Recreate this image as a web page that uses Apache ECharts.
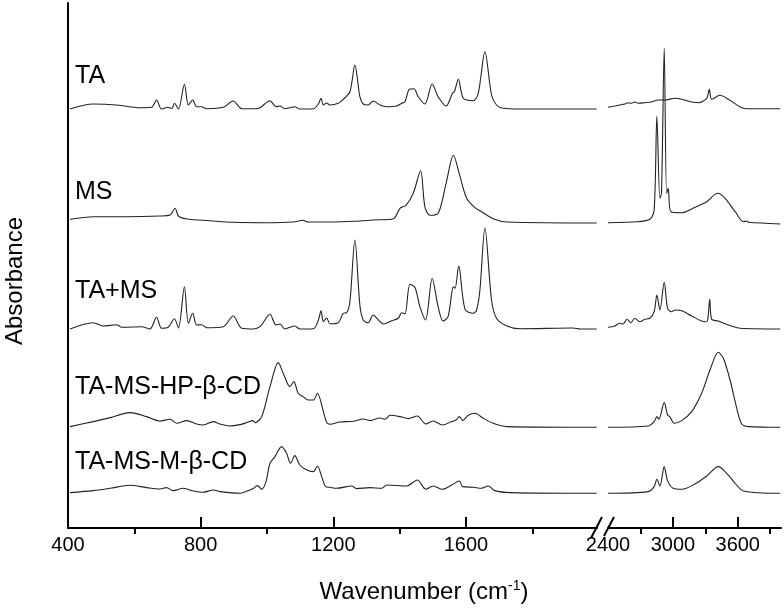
<!DOCTYPE html>
<html>
<head>
<meta charset="utf-8">
<script src="https://cdn.jsdelivr.net/npm/echarts@6/dist/echarts.min.js"></script>
<style>
html, body { margin: 0; padding: 0; background: #fff; }
#chart { width: 784px; height: 609px; }
</style>
</head>
<body>
<div id="chart"></div>
<script>
// sample names, top to bottom
var sampleNames = ['TA', 'MS', 'TA+MS', 'TA-MS-HP-\u03b2-CD', 'TA-MS-M-\u03b2-CD'];
// vertical shift of each spectrum in the stacked plot
var stackOffsets = [419, 305, 199, 100.7, 34.7];

// [wavenumber (cm-1), absorbance above own baseline]
var taSpectrum = [
	[406,0],[476,5],[547,4],[617,1.3],[652,1.7],[667,9],[682,0],[702,1.7],[713,0.3],[721,5.7],[733,0],
	[751,24.7],[763,4],[776,9],[788,2.3],[803,2.3],[818,0.3],[868,1.7],[898,8],[924,0.3],[964,0.3],
	[979,1.3],[1009,8.3],[1027,2.3],[1039,3],[1054,0.3],[1069,1.3],[1084,2.3],[1099,0],[1140,0.3],
	[1155,5],[1163,10.7],[1170,4],[1180,6],[1190,4],[1215,5.7],[1230,9.7],[1250,17.3],[1265,44],
	[1280,12.3],[1290,5],[1305,4],[1320,8],[1341,4],[1361,2.3],[1391,3],[1406,5.7],[1416,7.3],
	[1429,19.7],[1443,20.3],[1456,12.3],[1476,5],[1498,25],[1516,12.3],[1540,3],[1560,16.3],
	[1565,17.3],[1577,29.7],[1592,10.7],[1622,8.3],[1637,15.7],[1657,57.3],[1677,14],[1692,4],
	[1712,0.7],[1763,0],[1994,0],
	[2400,1.7],[2462,3],[2555,5],[2586,6.3],[2617,5.7],[2648,7],[2678,5.7],[2740,6.3],[2803,7],
	[2864,9],[2926,9],[3019,10.7],[3081,9.7],[3174,7],[3235,6.3],[3313,10.7],[3337,19.7],[3359,9.7],
	[3436,13.7],[3513,9.7],[3637,1.3],[3699,0.3],[3993,0.3]
];
var msSpectrum = [
	[406,3.7],[476,6.3],[577,6.3],[677,7],[708,8],[723,14.7],[733,7],[758,4],[828,2.3],[898,0.7],
	[999,0.3],[1079,1],[1109,2.7],[1124,1],[1190,1],[1265,1.7],[1320,3],[1381,4.3],[1401,14.7],
	[1419,17.7],[1441,29.7],[1463,52.3],[1476,16.3],[1491,7.7],[1517,10.3],[1540,39.7],[1562,67.7],
	[1582,46.3],[1602,24.7],[1627,15.3],[1647,11.3],[1682,4.3],[1723,1],[1994,0],
	[2400,0.3],[2678,1.3],[2787,3.7],[2827,13],[2852,107],[2880,24.7],[2895,29.7],[2920,174.7],
	[2942,29.7],[2957,34.7],[2982,11.3],[3081,10.3],[3204,15.7],[3313,21.3],[3415,29.7],[3483,24.7],
	[3576,11.3],[3653,1.3],[3684,2],[3699,0.7],[3993,-1]
];
var taMsSpectrum = [
	[406,0],[476,6.3],[506,3],[547,4.3],[562,1.7],[622,2.3],[647,0],[667,11.7],[682,0.7],[702,1.7],
	[721,10.3],[733,1],[751,42.3],[763,5.7],[776,15.7],[788,4],[803,4.3],[818,1.3],[868,2.3],[898,13],
	[924,0.7],[959,0],[979,2.3],[1009,14.7],[1027,4],[1039,5],[1054,0],[1069,1.7],[1084,3],[1099,0],
	[1140,0.3],[1155,9],[1163,18.3],[1170,7.3],[1180,11],[1190,5.2],[1215,6.3],[1230,15.7],[1240,16.3],
	[1250,27.3],[1265,89],[1280,24],[1290,9],[1305,6.3],[1320,14],[1336,9],[1351,5],[1376,8.3],
	[1396,10.7],[1406,16.3],[1416,15],[1431,44.7],[1446,41.7],[1461,22.3],[1478,9],[1498,50.7],
	[1516,22.3],[1531,8],[1546,12.3],[1562,42.3],[1567,40.7],[1578,63],[1597,19.7],[1622,15.7],
	[1632,19],[1642,39],[1657,101.3],[1677,29],[1692,10.7],[1723,3],[1763,0.3],[1923,1],[1944,0],[1994,0],
	[2400,1.7],[2462,3],[2509,5.7],[2539,5],[2576,9.7],[2611,6.3],[2648,10.7],[2694,7.3],[2740,9.7],
	[2787,10.7],[2827,17.3],[2852,34],[2880,19],[2920,46.7],[2951,20.7],[2988,17.3],[3019,19],
	[3081,18.3],[3174,13],[3297,7.3],[3320,8],[3341,29.7],[3359,9.7],[3420,8],[3513,4],[3622,0.7],[3993,0]
];
var hpSpectrum = [
	[406,0.7],[476,5.7],[527,9.7],[587,14.7],[637,10.7],[677,6.3],[708,8],[728,4],[758,6.7],[788,3.3],
	[808,2.3],[838,5.7],[858,3.3],[888,1.3],[919,2.7],[939,4.7],[957,6.7],[964,4.7],[984,10.7],
	[1009,40.7],[1034,64.7],[1051,52.3],[1069,40.7],[1081,45.7],[1094,34],[1109,30.7],[1124,27.3],
	[1140,27.3],[1152,34],[1170,15.7],[1180,4.7],[1190,3],[1220,5.3],[1260,6],[1290,8.3],[1310,6.7],
	[1341,9.3],[1356,8],[1371,12],[1401,10.7],[1426,8.7],[1453,11.3],[1479,3.3],[1501,6.3],[1529,2.3],
	[1557,5.7],[1570,7.3],[1580,10.7],[1590,6.7],[1607,12],[1627,14],[1652,9],[1682,4],[1723,0.7],[1994,0],
	[2400,0],[2771,1.3],[2827,5.7],[2852,10.7],[2870,8],[2920,24.7],[2951,12.3],[2972,10.7],[3012,4],
	[3081,6.7],[3174,15.7],[3266,34],[3343,57.3],[3420,75],[3467,69],[3529,47.3],[3591,19],[3637,3.3],
	[3699,0.7],[3993,0]
];
var mSpectrum = [
	[406,0.7],[476,2.7],[527,5],[587,8],[637,5.7],[677,4.3],[697,5.7],[717,2.7],[748,5],[773,2.7],
	[808,1],[838,3.3],[858,1.7],[919,0],[944,2.7],[959,4.7],[971,7.7],[984,4],[997,11.7],[1009,30],
	[1024,36.7],[1044,46.7],[1059,40],[1071,30],[1084,37.7],[1099,28.3],[1120,23.3],[1140,21.7],
	[1152,27.3],[1165,16.7],[1177,6.7],[1190,6],[1210,5],[1255,7.3],[1270,4.7],[1310,5.7],[1346,5],
	[1361,8.3],[1421,7.3],[1453,13.3],[1479,4],[1501,7.3],[1529,4],[1557,8.3],[1580,12.3],[1590,6.7],
	[1622,6],[1647,5],[1667,7.3],[1687,2.7],[1733,0.7],[1994,0],
	[2400,0],[2771,1.7],[2827,6.7],[2852,14],[2880,7.3],[2920,26.7],[2951,12.7],[3003,5],[3081,4],
	[3204,9.3],[3313,17.3],[3420,26.7],[3498,20],[3576,10],[3653,2.3],[3993,0]
];

// axis ticks / labels for the two parts of the broken axis
var lowTicks = [400, 800, 1200, 1600];
var lowMinorTicks = [600, 1000, 1400, 1800];
var highLabels = [2400, 3000, 3600];
var highTicks = [3000, 3600];
var highMinorTicks = [2700, 3300, 3900];

var FONT = 'Liberation Sans, Arial, sans-serif';
var chart = echarts.init(document.getElementById('chart'), null, {renderer: 'canvas'});

var spectra = [taSpectrum, msSpectrum, taMsSpectrum, hpSpectrum, mSpectrum];
var series = [];
spectra.forEach(function(points, i){
	var low = [], high = [];
	points.forEach(function(p){
		var v = [p[0], p[1] + stackOffsets[i]];
		if (p[0] <= 2000) low.push(v); else high.push(v);
	});
	[[low, 0, 0], [high, 2, 1]].forEach(function(part){
		series.push({
			name: sampleNames[i],
			type: 'line',
			xAxisIndex: part[1],
			yAxisIndex: part[2],
			data: part[0],
			showSymbol: false,
			symbol: 'none',
			smooth: 0.3,
			silent: true,
			lineStyle: {color: '#222', width: 1.1}
		});
	});
});

function mainAxis(grid, min, max, ticks, labels){
	return {
		gridIndex: grid, type: 'value', min: min, max: max,
		axisLine: {onZero: false, lineStyle: {color: '#000', width: 2}},
		axisTick: {inside: true, length: 11, customValues: ticks, lineStyle: {color: '#000', width: 2}},
		axisLabel: {customValues: labels, margin: 7, color: '#000', fontSize: 20, fontFamily: FONT,
			formatter: function(v){ return String(v); }},
		splitLine: {show: false}
	};
}
function minorAxis(grid, min, max, ticks){
	return {
		gridIndex: grid, type: 'value', min: min, max: max,
		axisLine: {show: false},
		axisTick: {inside: true, length: 6, customValues: ticks, lineStyle: {color: '#000', width: 2}},
		axisLabel: {show: false},
		splitLine: {show: false}
	};
}

// labels for each spectrum
var labelY = [78, 194, 293, 389, 464];
var graphics = sampleNames.map(function(name, i){
	return {type: 'text', left: 75, top: labelY[i] - 14, z: 100,
		style: {text: name, fill: '#000', font: '25px ' + FONT}};
});
graphics.push({
	type: 'text', x: 15, y: 281, rotation: Math.PI / 2, z: 100,
	style: {text: 'Absorbance', fill: '#000', font: '24px ' + FONT, align: 'center', verticalAlign: 'middle'}
});
graphics.push({
	type: 'text', x: 424, y: 592, z: 100,
	style: {
		text: '{a|Wavenumber (cm}{s|-1}{a|)}', align: 'center', verticalAlign: 'middle',
		rich: {
			a: {fontSize: 24, fontFamily: FONT, fill: '#000', lineHeight: 26},
			s: {fontSize: 14, fontFamily: FONT, fill: '#000', verticalAlign: 'top'}
		}
	}
});
// axis break marks
graphics.push({type: 'line', z: 100, shape: {x1: 591, y1: 538, x2: 602, y2: 517}, style: {stroke: '#000', lineWidth: 2}});
graphics.push({type: 'line', z: 100, shape: {x1: 604, y1: 536, x2: 614, y2: 517}, style: {stroke: '#000', lineWidth: 2}});

var option = {
	animation: false,
	backgroundColor: '#fff',
	grid: [
		{left: 68, top: 3, width: 529, height: 525},
		{left: 608, top: 3, width: 173, height: 525}
	],
	xAxis: [
		mainAxis(0, 400, 1995, lowTicks, lowTicks),
		minorAxis(0, 400, 1995, lowMinorTicks),
		mainAxis(1, 2400, 4000, highTicks, highLabels),
		minorAxis(1, 2400, 4000, highMinorTicks)
	],
	yAxis: [
		{gridIndex: 0, type: 'value', min: 0, max: 525,
			axisLine: {show: true, onZero: false, lineStyle: {color: '#000', width: 2}},
			axisTick: {show: false}, axisLabel: {show: false}, splitLine: {show: false}},
		{gridIndex: 1, type: 'value', min: 0, max: 525, show: false}
	],
	series: series,
	graphic: graphics
};
chart.setOption(option);
</script>
</body>
</html>
